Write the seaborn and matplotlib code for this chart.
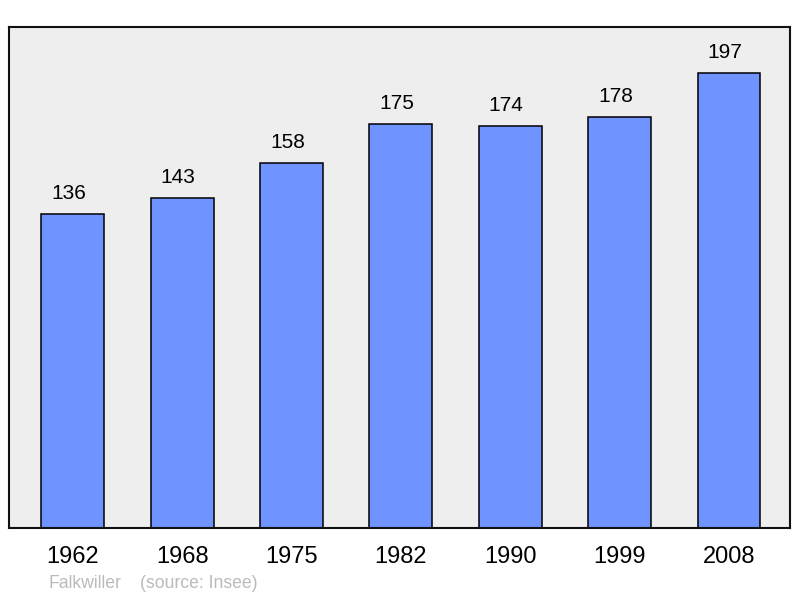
import pandas as pd
import matplotlib
matplotlib.use("Agg")
import matplotlib.pyplot as plt
import seaborn as sns

# Population data
years = ["1962", "1968", "1975", "1982", "1990", "1999", "2008"]
population = [136, 143, 158, 175, 174, 178, 197]

df = pd.DataFrame({"year": years, "population": population})

sns.set_style("white")
plt.rcParams["font.family"] = ["Liberation Sans", "DejaVu Sans"]

fig = plt.figure(figsize=(8, 5.98), dpi=100)
ax = fig.add_axes([9 / 800, 70 / 598, 781 / 800, 501 / 598])
ax.set_facecolor("#eeeeee")

sns.barplot(data=df, x="year", y="population", color="#7094ff",
            saturation=1, width=0.576, edgecolor="black", linewidth=1.1, ax=ax)

ax.set_xlim(-0.585, len(years) - 1 + 0.558)
ax.set_ylim(0, 217)

# value labels above bars (slightly left of centre, like the original)
for i, v in enumerate(population):
    ax.annotate(str(v), (i, v), xytext=(-3, 8), textcoords="offset points",
                ha="center", va="bottom", fontsize=15, color="black")

ax.set_xlabel("")
ax.set_ylabel("")
ax.set_yticks([])
ax.tick_params(axis="x", length=0, pad=13, labelsize=17, labelcolor="black")
for s in ax.spines.values():
    s.set_visible(True)
    s.set_linewidth(1.5)
    s.set_color("#111111")

fig.text(49 / 800, 1 - 583 / 598, "Falkwiller", ha="left", va="center",
         fontsize=12.7, color="#bbbbbb")
fig.text(140 / 800, 1 - 583 / 598, "(source: Insee)", ha="left", va="center",
         fontsize=12.7, color="#bbbbbb")

fig.savefig("out.png", dpi=100)
